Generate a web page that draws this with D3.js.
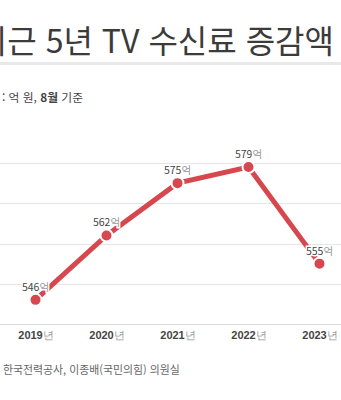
<!DOCTYPE html>
<html lang="ko">
<head>
<meta charset="utf-8">
<script src="https://cdn.jsdelivr.net/npm/d3@7"></script>
<style>
  html, body { margin: 0; padding: 0; background: #fff; overflow: hidden; }
  svg { display: block; font-family: "Noto Sans CJK KR", "Noto Sans", sans-serif; }
</style>
</head>
<body>
<svg id="chart" width="341" height="400"></svg>
<script>
// 최근 5년 TV 수신료 (억 원, 8월 기준)
const years = ["2019", "2020", "2021", "2022", "2023"];
const fees = [546, 562, 575, 579, 555];
const yTicks = [540, 550, 560, 570, 580];

const titleText = "최근 5년 TV 수신료 증감액";
const unitText = [": 억 원, ", "8월", " 기준"];
const sourceText = "한국전력공사, 이종배(국민의힘) 의원실";

const W = 341, H = 400;
const svg = d3.select("#chart");
const red = "#d7474e";

// title + separator
svg.append("text")
  .attr("x", 334).attr("y", 53)
  .attr("text-anchor", "end")
  .attr("font-size", 32)
  .attr("fill", "#3b3b3b")
  .text(titleText);

svg.append("rect")
  .attr("x", 0).attr("y", 62).attr("width", W).attr("height", 3)
  .attr("fill", "#e9e9e9");

// unit note
const unit = svg.append("text")
  .attr("x", 2).attr("y", 102)
  .attr("font-size", 11.8)
  .attr("fill", "#444");
unit.append("tspan").text(unitText[0]);
unit.append("tspan").attr("font-weight", "bold").text(unitText[1]);
unit.append("tspan").text(unitText[2]);

// scales
const x = d3.scalePoint().domain(years).range([0, 355]).padding(0.5);
const y = d3.scaleLinear().domain([540, 580]).range([324, 163]);

// gridlines
svg.append("g").selectAll("line")
  .data(yTicks)
  .join("line")
  .attr("x1", 0).attr("x2", W)
  .attr("y1", d => Math.round(y(d)) + 0.5)
  .attr("y2", d => Math.round(y(d)) + 0.5)
  .attr("stroke", d => d === 540 ? "#d9d9d9" : "#e6e6e6")
  .attr("stroke-width", 1);

// x-axis labels
const xAxis = d3.axisBottom(x).tickSize(0).tickPadding(0).tickFormat("");
const gx = svg.append("g").attr("transform", "translate(0,324)").call(xAxis);
gx.select(".domain").remove();
gx.selectAll(".tick").append("text")
  .attr("y", 15)
  .attr("text-anchor", "middle")
  .attr("font-size", 11)
  .each(function(d) {
    const t = d3.select(this);
    t.append("tspan").attr("fill", "#444").attr("font-weight", "bold").text(d);
    t.append("tspan").attr("fill", "#9a9a9a").text("년");
  });

// data
const data = years.map((yr, i) => ({ yr, v: fees[i] }));

svg.append("path")
  .datum(data)
  .attr("fill", "none")
  .attr("stroke", red)
  .attr("stroke-width", 5)
  .attr("d", d3.line().x(d => x(d.yr)).y(d => y(d.v)));

svg.append("g").selectAll("circle")
  .data(data)
  .join("circle")
  .attr("cx", d => x(d.yr))
  .attr("cy", d => y(d.v))
  .attr("r", 6)
  .attr("fill", red)
  .attr("stroke", "#fff")
  .attr("stroke-width", 2);

// value labels
svg.append("g").selectAll("text")
  .data(data)
  .join("text")
  .attr("x", d => x(d.yr))
  .attr("y", d => y(d.v) - 9)
  .attr("text-anchor", "middle")
  .attr("font-size", 10.5)
  .attr("stroke", "#fff")
  .attr("stroke-width", 3)
  .attr("paint-order", "stroke")
  .each(function(d) {
    const t = d3.select(this);
    t.append("tspan").attr("fill", "#444").text(d.v);
    t.append("tspan").attr("fill", "#999").text("억");
  });

// source
svg.append("text")
  .attr("x", 3).attr("y", 374)
  .attr("font-size", 10.9)
  .attr("fill", "#666")
  .text(sourceText);
</script>
</body>
</html>
